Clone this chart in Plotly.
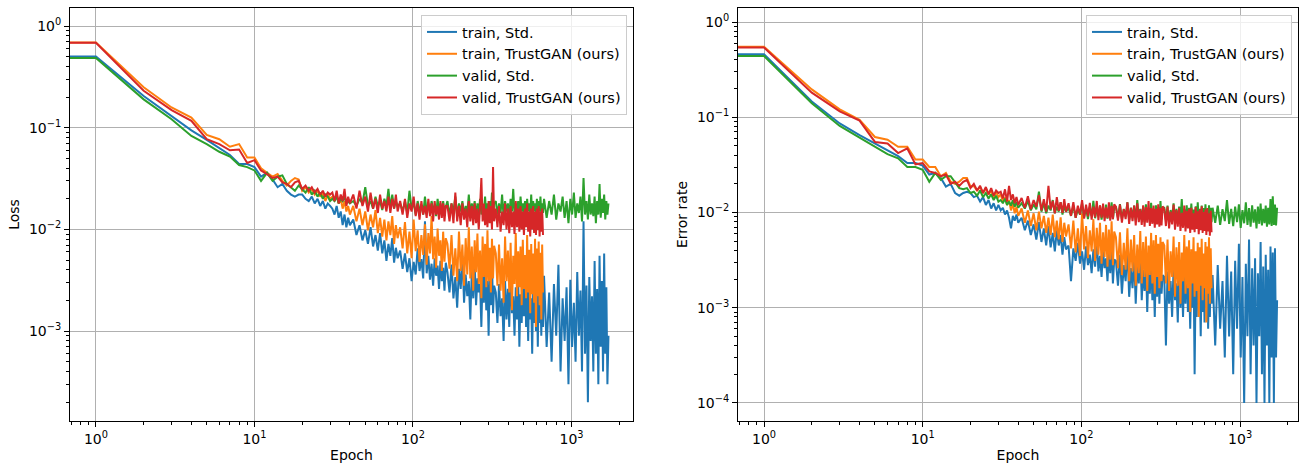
import plotly.graph_objects as go

# ---------------- data ----------------
# epochs at which values were read (every epoch early on, thinner later)
epochs_a = list(range(0, 41))
epochs_b = list(range(42, 81, 2))
epochs_c = list(range(83, 162, 3))
epochs_d = list(range(165, 326, 5))
epochs_e = list(range(333, 662, 8))
epochs_f = list(range(671, 1712, 26))
epochs_tg = epochs_a + epochs_b + epochs_c + epochs_d + epochs_e
epochs_std = epochs_tg + epochs_f

# ---- Loss ----
loss_train_std = [
    0.50, 0.50, 0.205, 0.130, 0.094, 0.076, 0.063, 0.054, 0.044, 0.044, 0.041, 0.033, 0.036, 0.031, 0.026,
    0.028, 0.024, 0.022, 0.021, 0.022, 0.022, 0.020, 0.019, 0.021, 0.018, 0.020, 0.017, 0.019, 0.016, 0.018, 0.017,
    0.016, 0.014, 0.017, 0.013, 0.015, 0.011, 0.014, 0.0105, 0.013, 0.011,
    0.0125, 0.0088, 0.011, 0.0078, 0.0098, 0.0072, 0.0105, 0.0068, 0.0088, 0.0062,
    0.0092, 0.0058, 0.0078, 0.0049, 0.0072, 0.0055, 0.0082, 0.0047, 0.0066, 0.0052,
    0.0062, 0.0041, 0.0058, 0.0038, 0.0052, 0.0031, 0.0048, 0.0036, 0.0065, 0.0039,
    0.0051, 0.0033, 0.012, 0.0037, 0.0055, 0.0032, 0.0046, 0.0028, 0.0052, 0.0035,
    0.0044, 0.0026, 0.0049, 0.0031, 0.0042, 0.0025, 0.0047,
    0.0038, 0.0024, 0.0045, 0.0021, 0.0034, 0.0017, 0.0041, 0.0026, 0.0055, 0.0019,
    0.0036, 0.0022, 0.0031, 0.0013, 0.0039, 0.0021, 0.0047, 0.0018, 0.0033, 0.0024,
    0.0029, 0.0011, 0.0037, 0.0019, 0.0042, 0.0016, 0.0031, 0.0009, 0.0035, 0.0018,
    0.0051, 0.0015, 0.0028,
    0.0024, 0.0012, 0.0029, 0.0014, 0.0021, 0.0008, 0.0031, 0.0013, 0.0026, 0.0011,
    0.0047, 0.0015, 0.0022, 0.0009, 0.0027, 0.0013, 0.0033, 0.0007, 0.0023, 0.0012,
    0.0028, 0.0014, 0.0055, 0.0011, 0.0025, 0.0008, 0.0031, 0.0013, 0.0021, 0.0006,
    0.0026, 0.0012, 0.0038, 0.0010, 0.0024, 0.0007, 0.0029, 0.0012, 0.0022, 0.0009,
    0.0033, 0.0011,
    0.0035, 0.0007, 0.0024, 0.0005, 0.0029, 0.0009, 0.0045, 0.0004, 0.0021, 0.0008,
    0.0027, 0.0003, 0.0032, 0.0007, 0.0019, 0.0005, 0.0038, 0.0009, 0.0025, 0.0004,
    0.012, 0.0006, 0.0028, 0.0002, 0.0034, 0.0008, 0.0022, 0.0004, 0.0049, 0.0006,
    0.0026, 0.0003, 0.0055, 0.0007, 0.0031, 0.0004, 0.0058, 0.0006, 0.0027, 0.0003,
    0.0009,
]
loss_train_tg = [
    0.69, 0.69, 0.25, 0.158, 0.126, 0.085, 0.077, 0.065, 0.069, 0.051, 0.051, 0.040, 0.036, 0.033, 0.035,
    0.030, 0.027, 0.030, 0.032, 0.031, 0.024, 0.026, 0.023, 0.025, 0.022, 0.024, 0.021, 0.023, 0.019, 0.022, 0.020,
    0.021, 0.019, 0.022, 0.018, 0.020, 0.016, 0.019, 0.015, 0.017, 0.014,
    0.017, 0.012, 0.016, 0.011, 0.015, 0.0098, 0.014, 0.0105, 0.0155, 0.0092,
    0.013, 0.0085, 0.0125, 0.0078, 0.012, 0.0088, 0.0135, 0.0072, 0.011, 0.0082,
    0.0105, 0.0065, 0.0118, 0.0058, 0.0095, 0.0052, 0.0125, 0.0061, 0.0098, 0.0048,
    0.0088, 0.0056, 0.0112, 0.0045, 0.0092, 0.0058, 0.0135, 0.0051, 0.0085, 0.0042,
    0.0102, 0.0055, 0.0078, 0.0039, 0.0095, 0.0048, 0.0082,
    0.0072, 0.0041, 0.0088, 0.0035, 0.0065, 0.0031, 0.0095, 0.0039, 0.0071, 0.0028,
    0.0082, 0.0036, 0.0105, 0.0033, 0.0068, 0.0025, 0.0078, 0.0038, 0.0091, 0.0029,
    0.0062, 0.0021, 0.0085, 0.0034, 0.0072, 0.0027, 0.0098, 0.0031, 0.0066, 0.0024,
    0.0081, 0.0033, 0.0069,
    0.0058, 0.0028, 0.0071, 0.0025, 0.0052, 0.0019, 0.0085, 0.0031, 0.0062, 0.0024,
    0.0074, 0.0016, 0.0055, 0.0029, 0.0092, 0.0022, 0.0061, 0.0027, 0.0068, 0.0018,
    0.0079, 0.0026, 0.0056, 0.0021, 0.0088, 0.0024, 0.0063, 0.0015, 0.0072, 0.0023,
    0.0058, 0.0019, 0.0081, 0.0011, 0.0065, 0.0022, 0.0076, 0.0018, 0.0059, 0.0013,
    0.0071, 0.0024,
]
loss_valid_std = [
    0.485, 0.485, 0.19, 0.121, 0.083, 0.069, 0.058, 0.052, 0.043, 0.041, 0.038, 0.030, 0.036, 0.030, 0.033,
    0.034, 0.028, 0.026, 0.024, 0.027, 0.025, 0.023, 0.026, 0.022, 0.024, 0.021, 0.023, 0.020, 0.022, 0.021, 0.019,
    0.020, 0.019, 0.021, 0.018, 0.020, 0.019, 0.021, 0.018, 0.019, 0.018,
    0.019, 0.017, 0.020, 0.018, 0.026, 0.017, 0.019, 0.016, 0.021, 0.017,
    0.019, 0.0155, 0.020, 0.017, 0.025, 0.016, 0.022, 0.016, 0.019, 0.017,
    0.018, 0.015, 0.019, 0.0145, 0.024, 0.016, 0.018, 0.014, 0.019, 0.0155,
    0.017, 0.014, 0.021, 0.015, 0.018, 0.0145, 0.019, 0.016, 0.017, 0.0135,
    0.020, 0.015, 0.018, 0.014, 0.019, 0.015, 0.017,
    0.019, 0.014, 0.018, 0.015, 0.021, 0.0135, 0.018, 0.015, 0.019, 0.014,
    0.017, 0.0145, 0.022, 0.014, 0.018, 0.015, 0.019, 0.013, 0.018, 0.0145,
    0.020, 0.014, 0.017, 0.015, 0.021, 0.0135, 0.018, 0.014, 0.019, 0.015,
    0.023, 0.014, 0.018,
    0.019, 0.014, 0.018, 0.0145, 0.022, 0.013, 0.019, 0.015, 0.018, 0.0135,
    0.020, 0.015, 0.025, 0.014, 0.018, 0.0145, 0.019, 0.013, 0.021, 0.015,
    0.018, 0.014, 0.019, 0.0125, 0.020, 0.015, 0.018, 0.014, 0.022, 0.0135,
    0.019, 0.015, 0.018, 0.014, 0.020, 0.013, 0.019, 0.015, 0.021, 0.014,
    0.018, 0.0145,
    0.020, 0.013, 0.019, 0.014, 0.022, 0.0125, 0.018, 0.015, 0.021, 0.013,
    0.019, 0.0115, 0.020, 0.014, 0.023, 0.013, 0.018, 0.0145, 0.021, 0.012,
    0.032, 0.014, 0.019, 0.0125, 0.022, 0.014, 0.018, 0.0135, 0.021, 0.0115,
    0.019, 0.014, 0.028, 0.013, 0.020, 0.0145, 0.022, 0.0125, 0.019, 0.014,
    0.018,
]
loss_valid_tg = [
    0.685, 0.685, 0.231, 0.149, 0.117, 0.077, 0.069, 0.060, 0.061, 0.045, 0.048, 0.038, 0.035, 0.032, 0.033,
    0.029, 0.028, 0.026, 0.029, 0.030, 0.025, 0.027, 0.024, 0.026, 0.023, 0.025, 0.022, 0.024, 0.021, 0.023, 0.022,
    0.023, 0.019, 0.024, 0.018, 0.022, 0.019, 0.025, 0.017, 0.021, 0.018,
    0.022, 0.016, 0.024, 0.017, 0.021, 0.015, 0.023, 0.016, 0.020, 0.0145,
    0.022, 0.016, 0.019, 0.015, 0.021, 0.0145, 0.020, 0.016, 0.022, 0.015,
    0.019, 0.014, 0.020, 0.013, 0.018, 0.015, 0.021, 0.0135, 0.018, 0.0125,
    0.019, 0.014, 0.017, 0.013, 0.020, 0.0135, 0.018, 0.012, 0.019, 0.014,
    0.017, 0.0125, 0.019, 0.013, 0.018, 0.012, 0.017,
    0.017, 0.012, 0.018, 0.0115, 0.023, 0.012, 0.017, 0.011, 0.018, 0.0125,
    0.016, 0.0105, 0.019, 0.012, 0.017, 0.011, 0.018, 0.0115, 0.016, 0.010,
    0.017, 0.032, 0.012, 0.018, 0.011, 0.016, 0.0105, 0.019, 0.0115, 0.017,
    0.010, 0.041, 0.012,
    0.016, 0.0105, 0.017, 0.0095, 0.015, 0.011, 0.018, 0.010, 0.016, 0.0092,
    0.017, 0.0105, 0.015, 0.009, 0.019, 0.0105, 0.016, 0.0095, 0.017, 0.010,
    0.015, 0.0088, 0.016, 0.0105, 0.018, 0.0095, 0.015, 0.0085, 0.016, 0.010,
    0.017, 0.0092, 0.015, 0.0088, 0.016, 0.0098, 0.017, 0.0085, 0.015, 0.0095,
    0.016, 0.0088,
]

# ---- Error rate ----
err_train_std = [
    0.458, 0.458, 0.146, 0.086, 0.065, 0.053, 0.044, 0.039, 0.033, 0.033, 0.031, 0.025, 0.026, 0.023, 0.0187,
    0.020, 0.016, 0.015, 0.016, 0.0165, 0.016, 0.0145, 0.015, 0.013, 0.0145, 0.012, 0.0135, 0.011, 0.0125, 0.0105, 0.012,
    0.0105, 0.0112, 0.0095, 0.0105, 0.0088, 0.0068, 0.0092, 0.0082, 0.0095, 0.0078,
    0.0088, 0.0065, 0.0082, 0.0058, 0.0075, 0.0052, 0.0079, 0.0049, 0.0068, 0.0045,
    0.0072, 0.0043, 0.0061, 0.0039, 0.0065, 0.0045, 0.0058, 0.0036, 0.0055, 0.0041,
    0.0045, 0.0019, 0.0042, 0.0031, 0.0048, 0.0029, 0.0039, 0.0025, 0.0044, 0.0028,
    0.0036, 0.0023, 0.0041, 0.0027, 0.0052, 0.0024, 0.0035, 0.0021, 0.0039, 0.0026,
    0.0033, 0.0019, 0.0037, 0.0023, 0.0045, 0.0018, 0.0032,
    0.0031, 0.0017, 0.0036, 0.0014, 0.0028, 0.0019, 0.0042, 0.0013, 0.0026, 0.0016,
    0.0033, 0.0011, 0.0029, 0.0018, 0.0038, 0.0012, 0.0025, 0.0015, 0.0031, 0.0009,
    0.0027, 0.0014, 0.0035, 0.0012, 0.0024, 0.0008, 0.0029, 0.0013, 0.0046, 0.0011,
    0.0026, 0.0014, 0.0022,
    0.0021, 0.0004, 0.0024, 0.0011, 0.0019, 0.0008, 0.0027, 0.0012, 0.0018, 0.0007,
    0.0031, 0.0010, 0.0021, 0.0008, 0.0025, 0.0011, 0.0042, 0.0009, 0.0019, 0.0006,
    0.0023, 0.0010, 0.0028, 0.0002, 0.0021, 0.0008, 0.0026, 0.0011, 0.0018, 0.0005,
    0.0024, 0.0009, 0.0032, 0.0007, 0.0020, 0.0010, 0.0027, 0.0006, 0.0019, 0.0008,
    0.0023, 0.0011,
    0.0022, 0.0004, 0.0028, 0.0006, 0.0019, 0.0003, 0.0035, 0.0005, 0.0024, 0.0002,
    0.0031, 0.0006, 0.0047, 0.0003, 0.0021, 0.0001, 0.0029, 0.0005, 0.0052, 0.0002,
    0.0026, 0.0004, 0.0033, 0.0001, 0.0023, 0.0005, 0.0049, 0.0002, 0.0027, 0.0001,
    0.0036, 0.0004, 0.0025, 0.0001, 0.0044, 0.0003, 0.0038, 0.0001, 0.0042, 0.0003,
    0.0012,
]
err_train_tg = [
    0.55, 0.55, 0.196, 0.121, 0.094, 0.062, 0.058, 0.049, 0.049, 0.036, 0.036, 0.030, 0.030, 0.024, 0.026,
    0.021, 0.020, 0.021, 0.023, 0.023, 0.0187, 0.019, 0.017, 0.0185, 0.016, 0.018, 0.0155, 0.017, 0.014, 0.0165, 0.0145,
    0.0155, 0.013, 0.0145, 0.012, 0.0135, 0.0105, 0.0125, 0.0098, 0.0115, 0.0092,
    0.011, 0.0078, 0.0105, 0.0072, 0.0098, 0.0065, 0.0102, 0.0068, 0.0092, 0.0061,
    0.0088, 0.0058, 0.0095, 0.0055, 0.0082, 0.0052, 0.0089, 0.0049, 0.0078, 0.0056,
    0.0075, 0.0042, 0.0082, 0.0038, 0.0068, 0.0035, 0.0098, 0.0041, 0.0072, 0.0033,
    0.0065, 0.0039, 0.0085, 0.0031, 0.0069, 0.0036, 0.0078, 0.0029, 0.0062, 0.0034,
    0.0074, 0.0027, 0.0066, 0.0032, 0.0081, 0.0028, 0.0063,
    0.0055, 0.0026, 0.0062, 0.0022, 0.0048, 0.0025, 0.0068, 0.0019, 0.0052, 0.0024,
    0.0058, 0.0017, 0.0046, 0.0023, 0.0064, 0.0018, 0.0049, 0.0021, 0.0056, 0.0015,
    0.0045, 0.0022, 0.0061, 0.0018, 0.0051, 0.0014, 0.0058, 0.0021, 0.0047, 0.0016,
    0.0055, 0.0019, 0.0049,
    0.0045, 0.0018, 0.0052, 0.0015, 0.0039, 0.0021, 0.0056, 0.0013, 0.0043, 0.0017,
    0.0049, 0.0011, 0.0038, 0.0019, 0.0058, 0.0014, 0.0044, 0.0016, 0.0051, 0.0009,
    0.0041, 0.0018, 0.0055, 0.0013, 0.0039, 0.0015, 0.0048, 0.0008, 0.0043, 0.0017,
    0.0053, 0.0012, 0.0037, 0.0016, 0.0049, 0.0007, 0.0044, 0.0014, 0.0055, 0.0011,
    0.0042, 0.0016,
]
err_valid_std = [
    0.44, 0.44, 0.140, 0.081, 0.061, 0.049, 0.041, 0.037, 0.030, 0.030, 0.028, 0.021, 0.026, 0.022, 0.024,
    0.024, 0.021, 0.018, 0.0175, 0.018, 0.016, 0.0165, 0.015, 0.017, 0.0145, 0.016, 0.014, 0.0155, 0.0135, 0.015, 0.013,
    0.0135, 0.0125, 0.014, 0.012, 0.013, 0.0118, 0.0135, 0.0115, 0.0128, 0.0112,
    0.0125, 0.011, 0.0132, 0.0105, 0.0122, 0.0108, 0.0165, 0.0102, 0.0125, 0.0098,
    0.0118, 0.0105, 0.0135, 0.0098, 0.0115, 0.0102, 0.0128, 0.0095, 0.0118, 0.0102,
    0.0112, 0.0092, 0.0118, 0.0088, 0.0108, 0.0095, 0.0125, 0.0089, 0.0112, 0.0085,
    0.0115, 0.0092, 0.0132, 0.0087, 0.0109, 0.0093, 0.0118, 0.0084, 0.0112, 0.0089,
    0.0121, 0.0086, 0.0108, 0.0092, 0.0128, 0.0085, 0.0111,
    0.0115, 0.0088, 0.0122, 0.0085, 0.0108, 0.0091, 0.0128, 0.0083, 0.0112, 0.0089,
    0.0118, 0.0082, 0.0135, 0.0087, 0.0109, 0.0084, 0.0115, 0.0079, 0.0122, 0.0088,
    0.0111, 0.0083, 0.0126, 0.0086, 0.0108, 0.0081, 0.0119, 0.0087, 0.0114, 0.0082,
    0.0132, 0.0085, 0.0112,
    0.0112, 0.0083, 0.0118, 0.0079, 0.0106, 0.0086, 0.0125, 0.0081, 0.0109, 0.0077,
    0.0115, 0.0084, 0.0138, 0.0079, 0.0108, 0.0082, 0.0119, 0.0076, 0.0112, 0.0085,
    0.0124, 0.0078, 0.0107, 0.0083, 0.0116, 0.0075, 0.0128, 0.0081, 0.0109, 0.0079,
    0.0118, 0.0084, 0.0111, 0.0076, 0.0122, 0.0082, 0.0108, 0.0078, 0.0119, 0.0083,
    0.0112, 0.0079,
    0.0112, 0.0078, 0.0118, 0.0074, 0.0108, 0.0081, 0.0135, 0.0076, 0.0109, 0.0072,
    0.0115, 0.0079, 0.0122, 0.0069, 0.0106, 0.0077, 0.0128, 0.0074, 0.0111, 0.0071,
    0.0119, 0.0078, 0.0108, 0.0068, 0.0115, 0.0076, 0.0124, 0.0073, 0.0109, 0.0077,
    0.0118, 0.0071, 0.0112, 0.0075, 0.0138, 0.0072, 0.0148, 0.0074, 0.0121, 0.0073,
    0.0112,
]
err_valid_tg = [
    0.54, 0.54, 0.181, 0.115, 0.092, 0.055, 0.053, 0.042, 0.047, 0.032, 0.033, 0.027, 0.026, 0.024, 0.025,
    0.020, 0.021, 0.019, 0.021, 0.022, 0.018, 0.020, 0.017, 0.019, 0.016, 0.0185, 0.0155, 0.018, 0.015, 0.017, 0.016,
    0.0165, 0.014, 0.0175, 0.013, 0.019, 0.0135, 0.0155, 0.0125, 0.0145, 0.012,
    0.0142, 0.0112, 0.0148, 0.0108, 0.0135, 0.0115, 0.0152, 0.0105, 0.0138, 0.0102,
    0.019, 0.0108, 0.0132, 0.0098, 0.0145, 0.0104, 0.0128, 0.0099, 0.0138, 0.0102,
    0.0125, 0.0092, 0.0128, 0.0088, 0.0118, 0.0095, 0.0135, 0.0086, 0.0121, 0.0091,
    0.0126, 0.0084, 0.0115, 0.0089, 0.0132, 0.0083, 0.0119, 0.0088, 0.0124, 0.0081,
    0.0113, 0.0087, 0.0128, 0.0082, 0.0117, 0.0085, 0.0122,
    0.0115, 0.0082, 0.0121, 0.0078, 0.0109, 0.0085, 0.0128, 0.0076, 0.0112, 0.0081,
    0.0118, 0.0073, 0.0125, 0.0079, 0.0108, 0.0074, 0.0119, 0.0071, 0.0114, 0.0078,
    0.0132, 0.0072, 0.0111, 0.0076, 0.0118, 0.0069, 0.0109, 0.0075, 0.0122, 0.0071,
    0.0112, 0.0073, 0.0116,
    0.0108, 0.0072, 0.0115, 0.0068, 0.0102, 0.0075, 0.0121, 0.0066, 0.0106, 0.0071,
    0.0112, 0.0064, 0.0099, 0.0069, 0.0118, 0.0063, 0.0104, 0.0068, 0.0109, 0.0061,
    0.0112, 0.0066, 0.0098, 0.0062, 0.0114, 0.0067, 0.0103, 0.0059, 0.0108, 0.0065,
    0.0116, 0.0061, 0.0101, 0.0064, 0.0107, 0.0058, 0.0111, 0.0063, 0.0098, 0.0057,
    0.0104, 0.0062,
]

series_names = ["train, Std.", "train, TrustGAN (ours)", "valid, Std.", "valid, TrustGAN (ours)"]
colors = ["#1f77b4", "#ff7f0e", "#2ca02c", "#d62728"]

major_x = [1, 10, 100, 1000]
major_x_text = ["10<sup>0</sup>", "10<sup>1</sup>", "10<sup>2</sup>", "10<sup>3</sup>"]
major_y_loss = [1, 0.1, 0.01, 0.001]
major_y_loss_text = ["10<sup>0</sup>", "10<sup>\u22121</sup>", "10<sup>\u22122</sup>", "10<sup>\u22123</sup>"]
major_y_err = [1, 0.1, 0.01, 0.001, 0.0001]
major_y_err_text = ["10<sup>0</sup>", "10<sup>\u22121</sup>", "10<sup>\u22122</sup>",
                    "10<sup>\u22123</sup>", "10<sup>\u22124</sup>"]

# ---------------- figure ----------------
for s, e in [(loss_train_std, epochs_std), (loss_valid_std, epochs_std), (err_train_std, epochs_std),
             (err_valid_std, epochs_std), (loss_train_tg, epochs_tg), (loss_valid_tg, epochs_tg),
             (err_train_tg, epochs_tg), (err_valid_tg, epochs_tg)]:
    assert len(s) == len(e), (len(s), len(e))


def xplot(ep):
    # matplotlib clips epoch 0 far to the left on a log axis
    return [v if v > 0 else 1e-3 for v in ep]


fig = go.Figure()
panels = [
    ("x", "y", "legend", [loss_train_std, loss_train_tg, loss_valid_std, loss_valid_tg]),
    ("x2", "y2", "legend2", [err_train_std, err_train_tg, err_valid_std, err_valid_tg]),
]
for xa, ya, lg, data in panels:
    for i, (name, col, vals) in enumerate(zip(series_names, colors, data)):
        ep = epochs_std if i in (0, 2) else epochs_tg
        fig.add_trace(go.Scatter(
            x=xplot(ep), y=vals, mode="lines", name=name,
            line=dict(color=col, width=2), xaxis=xa, yaxis=ya, legend=lg,
        ))

minor_vals = []
for d in [0.1, 1, 10, 100, 1000, 0.0001, 0.001, 0.01]:
    minor_vals += [d * k for k in range(2, 10)]

FONT = dict(family="DejaVu Sans", size=14, color="black")
LFONT = dict(family="DejaVu Sans", size=14.5, color="black")
axis_common = dict(
    type="log", showline=True, linecolor="black", linewidth=1, mirror=True,
    ticks="outside", ticklen=5, tickwidth=1, tickcolor="black",
    showgrid=True, gridcolor="#b0b0b0", gridwidth=1.1, zeroline=False,
    tickfont=FONT, automargin=False,
    minor=dict(ticks="outside", ticklen=3, tickwidth=0.8, tickcolor="black",
               tickvals=minor_vals, showgrid=False),
)

ybot = 1 - 421 / 466
ytop = 1 - 8 / 466

fig.update_layout(
    width=1299, height=466,
    margin=dict(l=0, r=0, t=0, b=0),
    paper_bgcolor="white", plot_bgcolor="white",
    font=FONT,
    xaxis=dict(axis_common, domain=[70 / 1299, 633 / 1299], range=[-0.1637, 3.388],
               tickvals=major_x, ticktext=major_x_text, anchor="y",
               title=dict(text="Epoch", font=FONT, standoff=4)),
    yaxis=dict(axis_common, domain=[ybot, ytop], range=[-3.884, 0.177],
               tickvals=major_y_loss, ticktext=major_y_loss_text, anchor="x",
               title=dict(text="Loss", font=FONT, standoff=6)),
    xaxis2=dict(axis_common, domain=[738 / 1299, 1298 / 1299], range=[-0.164, 3.365],
                tickvals=major_x, ticktext=major_x_text, anchor="y2",
                title=dict(text="Epoch", font=FONT, standoff=4)),
    yaxis2=dict(axis_common, domain=[ybot, ytop], range=[-4.19, 0.147],
                tickvals=major_y_err, ticktext=major_y_err_text, anchor="x2",
                title=dict(text="Error rate", font=FONT, standoff=6)),
    legend=dict(x=627 / 1299, y=1 - 15 / 466, xanchor="right", yanchor="top",
                bgcolor="rgba(255,255,255,0.8)", bordercolor="#cccccc", borderwidth=1,
                font=LFONT, itemwidth=30, tracegroupgap=0),
    legend2=dict(x=1292 / 1299, y=1 - 15 / 466, xanchor="right", yanchor="top",
                 bgcolor="rgba(255,255,255,0.8)", bordercolor="#cccccc", borderwidth=1,
                 font=LFONT, itemwidth=30, tracegroupgap=0),
)

fig.write_html("out.html", config={"displayModeBar": False},
               post_script="document.body.style.margin='0';document.body.style.overflow='hidden';")
